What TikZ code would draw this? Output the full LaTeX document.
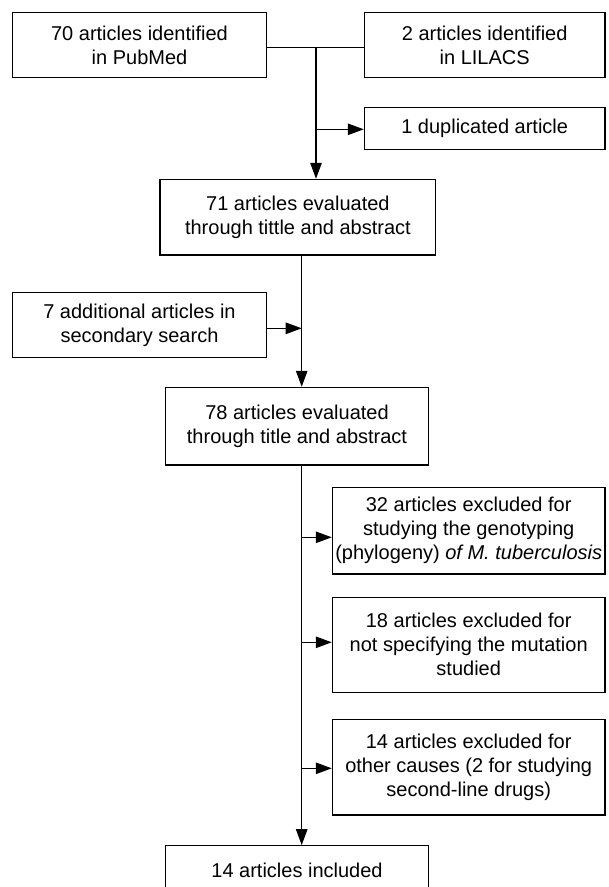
\documentclass[tikz,border=0pt]{standalone}
\usepackage{fontspec}
\setmainfont{Liberation Sans}
\usetikzlibrary{arrows.meta}
\begin{document}
\begin{tikzpicture}[x=1pt,y=-1pt,
  box/.style={draw, line width=1.2pt, align=center, inner sep=0pt,
    font=\fontsize{20}{24}\selectfont},
  conn/.style={line width=1.2pt},
  arr/.style={conn, -{Triangle[length=16pt,width=11.5pt]}}]
\clip (0,0) rectangle (609,887);
% boxes
\node[box, minimum width=254.4pt, minimum height=65pt] (A) at (139.5,45.2) {70 articles identified\\in PubMed};
\node[box, minimum width=240.7pt, minimum height=65pt] (B) at (484.7,45.2) {2 articles identified\\in LILACS};
\node[box, minimum width=240.7pt, minimum height=41.6pt] (D) at (484.7,128.5) {1 duplicated article};
\node[box, minimum width=275.7pt, minimum height=75.7pt] (C) at (297.9,217.2) {71 articles evaluated\\through tittle and abstract};
\node[box, minimum width=254.4pt, minimum height=65pt] (F) at (139.5,325.2) {7 additional articles in\\secondary search};
\node[box, minimum width=262.6pt, minimum height=77.7pt] (E) at (297,426.2) {78 articles evaluated\\through title and abstract};
\node[box, minimum width=272.7pt, minimum height=86.7pt] (G) at (468.7,530.7) {32 articles excluded for\\studying the genotyping\\(phylogeny) \textit{of M. tuberculosis}};
\node[box, minimum width=272.7pt, minimum height=95pt] (H) at (468.7,644.8) {18 articles excluded for\\not specifying the mutation\\studied};
\node[box, minimum width=272.7pt, minimum height=95.7pt] (I) at (468.7,767.2) {14 articles excluded for\\other causes (2 for studying\\second-line drugs)};
\node[box, minimum width=262.6pt, minimum height=48.6pt] (J) at (297,870) {14 articles included};
% junction coordinates
\coordinate (j1) at (316,47.7);
\coordinate (j2) at (316,129.3);
\coordinate (j3) at (301.7,255);
\coordinate (j4) at (301.7,328.3);
\coordinate (g1) at (301.7,537.3);
\coordinate (h1) at (301.7,642.3);
\coordinate (i1) at (301.7,768.3);
% connectors
\draw[conn] (A.east |- j1) -- (B.west |- j1);
\draw[arr] (j1) -- (j1 |- C.north);
\draw[arr] (j2) -- (D.west |- j2);
\draw[arr] (j3 |- C.south) -- (j3 |- E.north);
\draw[arr] (F.east |- j4) -- (j4);
\draw[arr] (j3 |- E.south) -- (j3 |- J.north);
\draw[arr] (g1) -- (G.west |- g1);
\draw[arr] (h1) -- (H.west |- h1);
\draw[arr] (i1) -- (I.west |- i1);
\end{tikzpicture}
\end{document}
